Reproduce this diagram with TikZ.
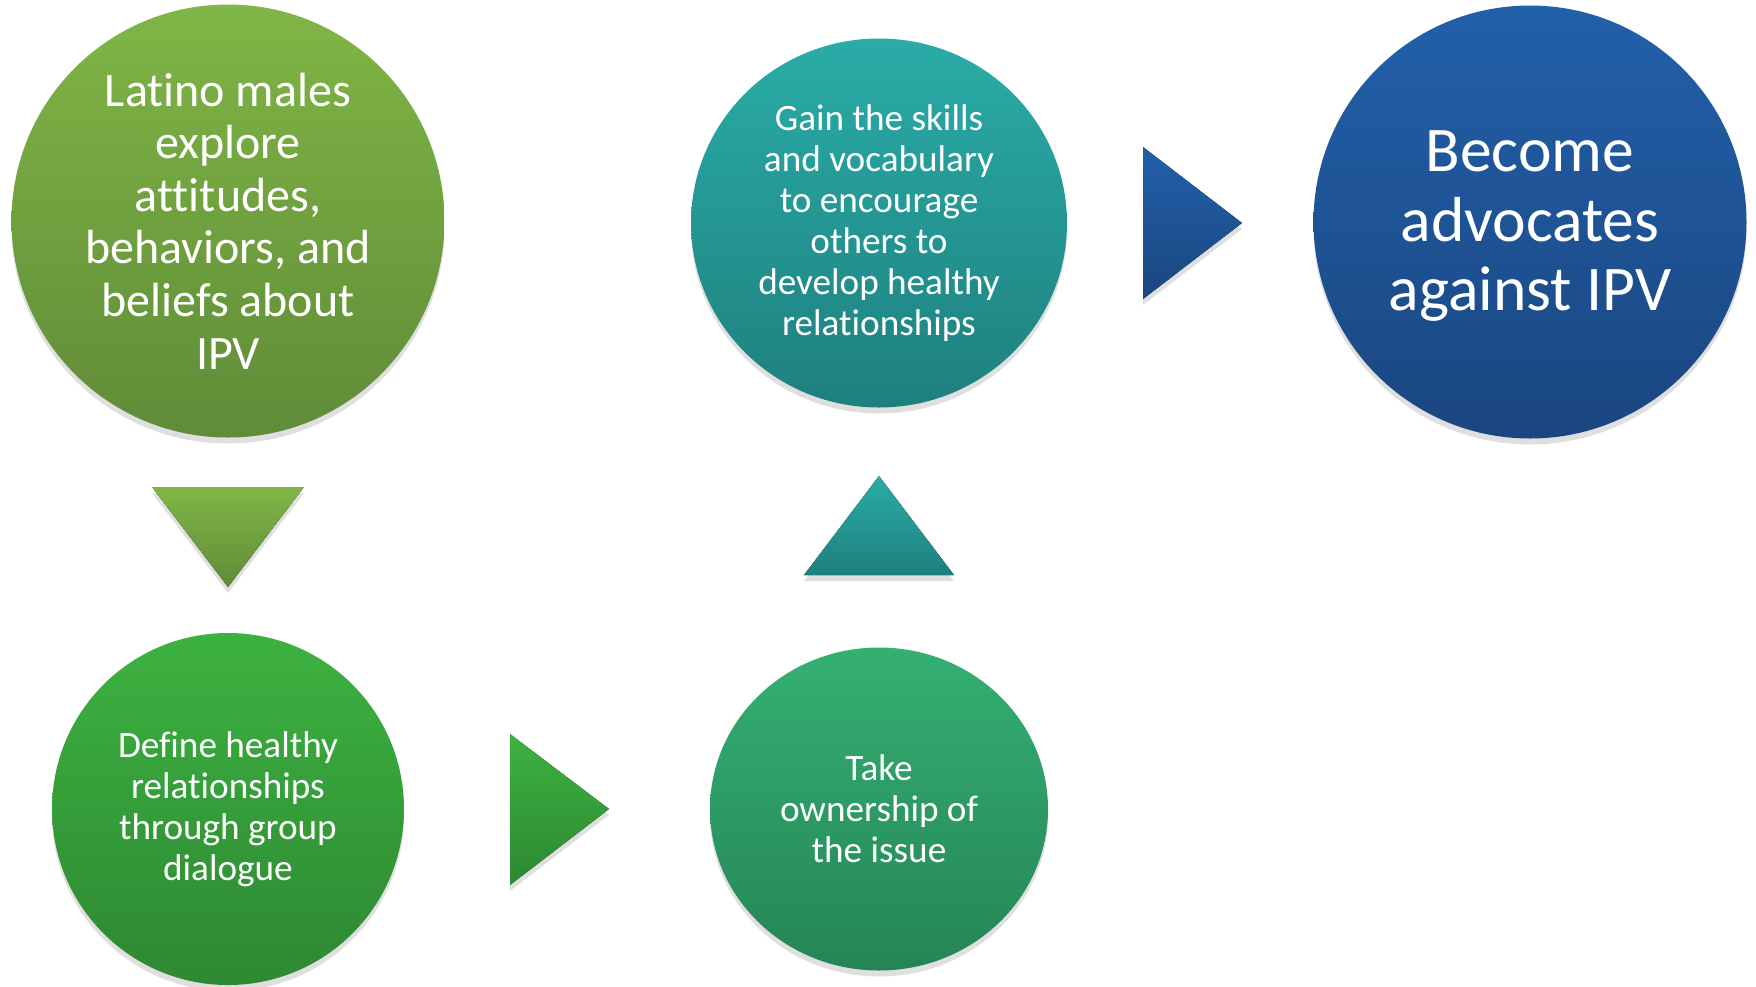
\documentclass[tikz,border=0pt]{standalone}
\usepackage{fontspec}
\setmainfont{Carlito}[Ligatures=NoCommon]
\usetikzlibrary{shapes.geometric,shadows}
\definecolor{leafTop}{RGB}{128,182,70}
\definecolor{leafBot}{RGB}{96,139,56}
\definecolor{grassTop}{RGB}{60,178,64}
\definecolor{grassBot}{RGB}{46,136,50}
\definecolor{jadeTop}{RGB}{52,176,114}
\definecolor{jadeBot}{RGB}{37,132,86}
\definecolor{tealTop}{RGB}{42,172,168}
\definecolor{tealBot}{RGB}{30,128,126}
\definecolor{navyTop}{RGB}{34,96,170}
\definecolor{navyBot}{RGB}{26,70,128}
\begin{document}
\begin{tikzpicture}[x=0.5pt,y=-0.5pt,
    softshadow/.style={drop shadow={shadow xshift=0pt,shadow yshift=-3pt,opacity=0.25}},
    bubble/.style={ellipse,inner sep=0pt,softshadow},
    words/.style={text=white,align=center,inner sep=0pt}]
    \useasboundingbox (0,0) rectangle (1756,986);

 % circles
 \node[bubble,minimum width=216.5pt,minimum height=216.5pt,top color=leafTop,bottom color=leafBot,
       label={[words,font=\fontsize{24}{26.3}\selectfont]center:Latino males\\explore\\attitudes,\\behaviors, and\\beliefs about\\IPV}]
       (explore) at (228,221) {};
 \node[bubble,minimum width=176pt,minimum height=176pt,top color=grassTop,bottom color=grassBot,
       label={[words,font=\fontsize{18.6}{20.5}\selectfont]center:Define healthy\\relationships\\through group\\dialogue}]
       (define) at (228,809) {};
 \node[bubble,minimum width=169pt,minimum height=161.5pt,top color=jadeTop,bottom color=jadeBot,
       label={[words,font=\fontsize{18.6}{20.5}\selectfont]center:Take\\ownership of\\the issue}]
       (own) at (879,809) {};
 \node[bubble,minimum width=188pt,minimum height=184.5pt,top color=tealTop,bottom color=tealBot,
       label={[words,font=\fontsize{18.6}{20.5}\selectfont]center:Gain the skills\\and vocabulary\\to encourage\\others to\\develop healthy\\relationships}]
       (gain) at (879,223) {};
 \node[bubble,minimum width=216.5pt,minimum height=216.5pt,top color=navyTop,bottom color=navyBot,
       label={[words,yshift=-2.2pt,font=\fontsize{31.8}{34.7}\selectfont]center:Become\\advocates\\against IPV}]
       (become) at (1530,222) {};

 % arrows between the steps
 \path[coordinate] (152,487) coordinate(A)
                   (304,487) coordinate(B)
                   (228,587) coordinate(C);
 \fill[top color=leafTop,bottom color=leafBot,softshadow] (A) -- (B) -- (C) -- cycle;

 \path[coordinate] (510,734) coordinate(D)
                   (609,809) coordinate(E)
                   (510,885) coordinate(F);
 \fill[top color=grassTop,bottom color=grassBot,softshadow] (D) -- (E) -- (F) -- cycle;

 \path[coordinate] (879,476) coordinate(G)
                   (954,575) coordinate(H)
                   (804,575) coordinate(I);
 \fill[top color=tealTop,bottom color=tealBot,softshadow] (G) -- (H) -- (I) -- cycle;

 \path[coordinate] (1143,147) coordinate(J)
                   (1242,223) coordinate(K)
                   (1143,299) coordinate(L);
 \fill[top color=navyTop,bottom color=navyBot,softshadow] (J) -- (K) -- (L) -- cycle;

\end{tikzpicture}
\end{document}
